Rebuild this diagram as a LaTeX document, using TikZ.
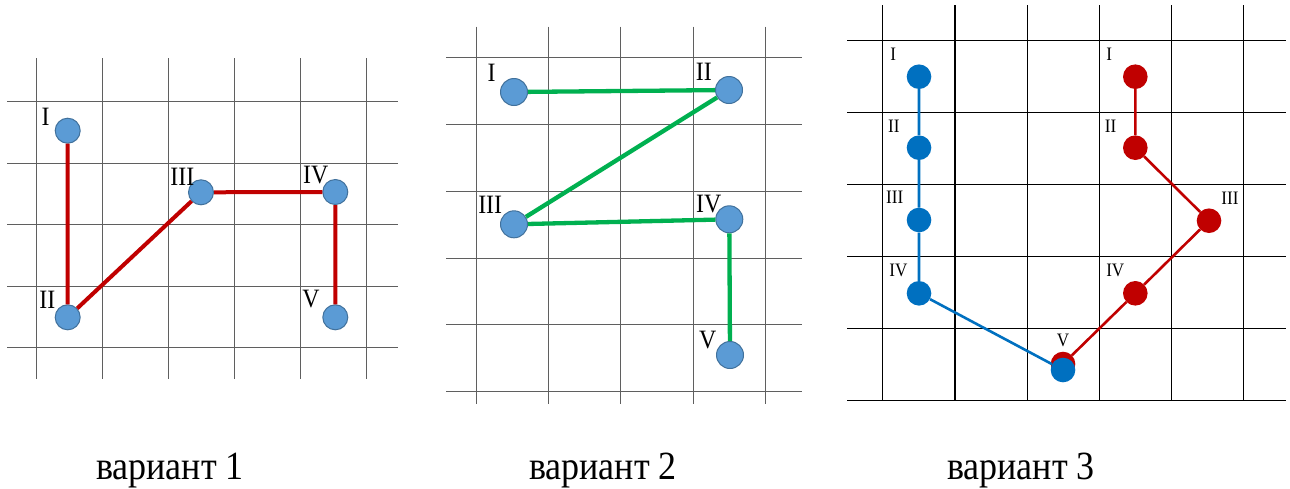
\documentclass[tikz,border=0pt]{standalone}
\usepackage{fontspec}
\setmainfont[FakeStretch=0.9]{Liberation Serif}

\definecolor{gridgray}{HTML}{5F5F5F}
\definecolor{ptfill}{HTML}{5B9BD5}
\definecolor{ptedge}{HTML}{41719C}
\definecolor{redline}{HTML}{C00000}
\definecolor{greenline}{HTML}{00B050}
\definecolor{blueline}{HTML}{0070C0}

\begin{document}
\begin{tikzpicture}[x=1pt, y=-1pt,
    vtx/.style={circle, fill=ptfill, draw=ptedge, line width=1pt, inner sep=0pt, minimum size=25pt},
    vtxsmall/.style={circle, inner sep=0pt, minimum size=24.6pt},
    lbl/.style={inner sep=0pt, font=\fontsize{26.5}{26.5}\selectfont},
    lblsmall/.style={inner sep=0pt, font=\fontsize{19}{19}\selectfont},
    caption/.style={anchor=base, inner sep=0pt, font=\fontsize{40}{40}\selectfont}]

    \useasboundingbox (0,0) rectangle (1290,488);

    % 1. Grids of the three variants
    \foreach \i in {0,...,5} \draw[gridgray, line width=1pt] (36+66*\i, 58) -- (36+66*\i, 379);
    \foreach \j in {0,...,4} \draw[gridgray, line width=1pt] (7, 101.7+61.5*\j) -- (398, 101.7+61.5*\j);

    \foreach \i in {0,...,4} \draw[gridgray, line width=1pt] (476.7+72.1*\i, 26.7) -- (476.7+72.1*\i, 404);
    \foreach \j in {0,...,5} \draw[gridgray, line width=1pt] (446, 57.7+66.8*\j) -- (802, 57.7+66.8*\j);

    \foreach \i in {0,...,5} \draw[black, line width=1.2pt] (882.7+72.2*\i, 5) -- (882.7+72.2*\i, 400.7);
    \foreach \j in {0,...,5} \draw[black, line width=1.2pt] (847, 40.7+72*\j) -- (1286, 40.7+72*\j);

    % 2. Variant 1 (red path)
    \node[vtx] (a1) at (67.7, 130.7) {};
    \node[vtx] (a2) at (67.7, 317.3) {};
    \node[vtx] (a3) at (201, 192.3) {};
    \node[vtx] (a4) at (335.3, 192) {};
    \node[vtx] (a5) at (335.3, 317.3) {};
    \draw[redline, line width=4pt] (a1) -- (a2) -- (a3) -- (a4) -- (a5);

    \node[lbl] (la1) at (45.7, 117) {I};
    \node[lbl] (la2) at (47.3, 300) {II};
    \node[lbl] (la3) at (182.3, 177.2) {III};
    \node[lbl] (la4) at (315.8, 175.5) {IV};
    \node[lbl] (la5) at (311, 299.3) {V};

    % 3. Variant 2 (green path)
    \node[vtx, minimum size=27pt] (b1) at (514, 92) {};
    \node[vtx, minimum size=27pt] (b2) at (729, 90) {};
    \node[vtx, minimum size=27pt] (b3) at (514, 224.3) {};
    \node[vtx, minimum size=27pt] (b4) at (729.3, 219.3) {};
    \node[vtx, minimum size=27pt] (b5) at (730, 355) {};
    \draw[greenline, line width=4.3pt] (b1) -- (b2) -- (b3) -- (b4) -- (b5);

    \node[lbl] (lb1) at (491.5, 72.5) {I};
    \node[lbl] (lb2) at (703.8, 71.7) {II};
    \node[lbl] (lb3) at (490.2, 204.5) {III};
    \node[lbl] (lb4) at (708.8, 204.5) {IV};
    \node[lbl] (lb5) at (707.7, 340.5) {V};

    % 4. Variant 3 (red path behind, blue path in front)
    \node[vtxsmall, fill=redline] (r1) at (1135.3, 76.7) {};
    \node[vtxsmall, fill=redline] (r2) at (1135.3, 147.7) {};
    \node[vtxsmall, fill=redline] (r3) at (1209, 220.7) {};
    \node[vtxsmall, fill=redline] (r4) at (1135.3, 293.3) {};
    \node[vtxsmall, fill=redline] (r5) at (1063, 364) {};
    \draw[redline, line width=2.6pt] (r1) -- (r2) -- (r3) -- (r4) -- (r5);

    \node[vtxsmall, fill=blueline] (c1) at (919, 76.7) {};
    \node[vtxsmall, fill=blueline] (c2) at (919, 147.7) {};
    \node[vtxsmall, fill=blueline] (c3) at (919, 220) {};
    \node[vtxsmall, fill=blueline] (c4) at (919, 293.3) {};
    \node[vtxsmall, fill=blueline] (c5) at (1063, 370) {};
    \draw[blueline, line width=2.6pt] (c1) -- (c2) -- (c3) -- (c4) -- (c5);

    \node[lblsmall] (lc1) at (893.3, 54.5) {I};
    \node[lblsmall] (lc2) at (893.8, 125.8) {II};
    \node[lblsmall] (lc3) at (894.7, 197) {III};
    \node[lblsmall] (lc4) at (898.5, 270) {IV};
    \node[lblsmall] (lc5) at (1063, 340.3) {V};
    \node[lblsmall] (lr1) at (1109.3, 53.8) {I};
    \node[lblsmall] (lr2) at (1110.5, 125.8) {II};
    \node[lblsmall] (lr3) at (1230, 197.8) {III};
    \node[lblsmall] (lr4) at (1115.3, 270) {IV};

    % 5. Captions
    \node[caption] (cap1) at (170, 479) {вариант 1};
    \node[caption] (cap2) at (603, 479) {вариант 2};
    \node[caption] (cap3) at (1021, 479) {вариант 3};

\end{tikzpicture}
\end{document}
